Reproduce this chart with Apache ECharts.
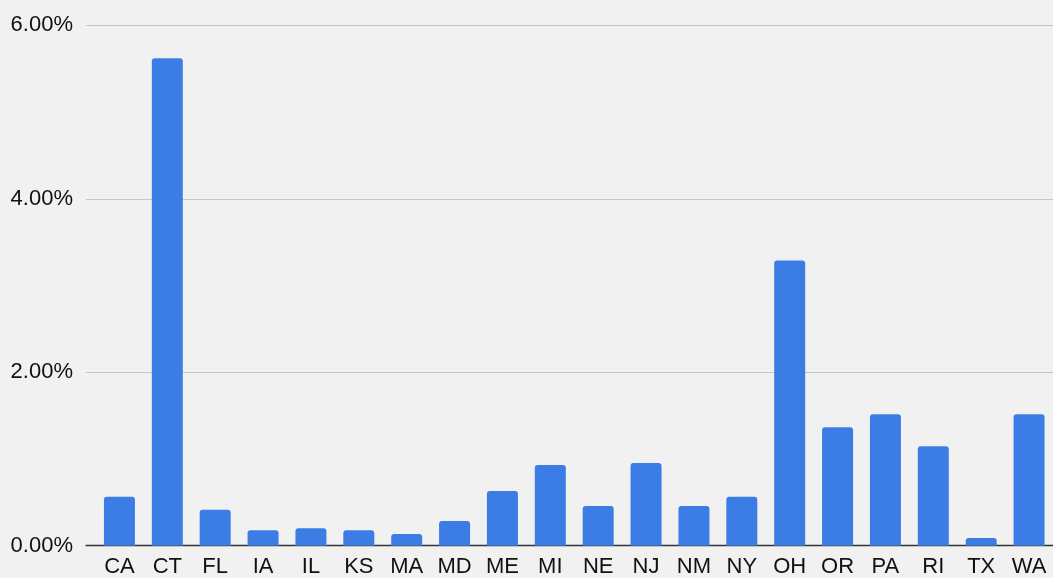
<!DOCTYPE html>
<html>
<head>
<meta charset="utf-8">
<script src="https://cdn.jsdelivr.net/npm/echarts@6/dist/echarts.min.js"></script>
<style>
  html, body { margin: 0; padding: 0; background: #f1f1f1; }
  #chart { width: 1053px; height: 578px; }
</style>
</head>
<body>
<div id="chart"></div>
<script>
// States on the x axis
const states = ['CA', 'CT', 'FL', 'IA', 'IL', 'KS', 'MA', 'MD', 'ME', 'MI',
                'NE', 'NJ', 'NM', 'NY', 'OH', 'OR', 'PA', 'RI', 'TX', 'WA'];
// Percent values
const rates = [0.565, 5.62, 0.415, 0.178, 0.20, 0.178, 0.135, 0.285, 0.63, 0.93,
               0.458, 0.954, 0.458, 0.565, 3.287, 1.366, 1.516, 1.146, 0.089, 1.516];
// Y axis range
const yMin = 0;
const yMax = 6;
const yStep = 2;

const chartDom = document.getElementById('chart');
const myChart = echarts.init(chartDom);

const textFont = { fontFamily: 'Liberation Sans, Arial, sans-serif', fontSize: 22, color: '#111' };

const option = {
    backgroundColor: '#f1f1f1',
    animation: false,
    grid: [
        // wide grid for gridlines and baseline
        { left: 86, right: 0, top: 25.3, bottom: 32.3 },
        // bar grid, category band runs past the right edge
        { left: 95.5, width: 961.6, top: 25.3, bottom: 32.3 }
    ],
    xAxis: [
        {
            gridIndex: 0, type: 'value', min: 0, max: 1,
            axisLine: { show: true, lineStyle: { color: '#333', width: 1.3 } },
            axisTick: { show: false }, axisLabel: { show: false }, splitLine: { show: false }
        },
        {
            gridIndex: 1, type: 'category', data: states,
            axisLine: { show: false }, axisTick: { show: false },
            axisLabel: Object.assign({ margin: 10, interval: 0 }, textFont)
        }
    ],
    yAxis: [
        {
            gridIndex: 0, type: 'value', min: yMin, max: yMax, interval: yStep,
            axisLine: { show: false }, axisTick: { show: false },
            axisLabel: Object.assign({ margin: 13, formatter: v => v.toFixed(2) + '%' }, textFont),
            splitLine: { lineStyle: { color: '#c6c6c6', width: 1.2 } }
        },
        {
            gridIndex: 1, type: 'value', min: yMin, max: yMax, show: false,
            splitLine: { show: false }
        }
    ],
    series: [{
        type: 'bar',
        xAxisIndex: 1,
        yAxisIndex: 1,
        data: rates,
        barWidth: 31,
        itemStyle: { color: '#3b7de5', borderRadius: [3, 3, 0, 0] },
        z: 1
    }]
};

myChart.setOption(option);
</script>
</body>
</html>
